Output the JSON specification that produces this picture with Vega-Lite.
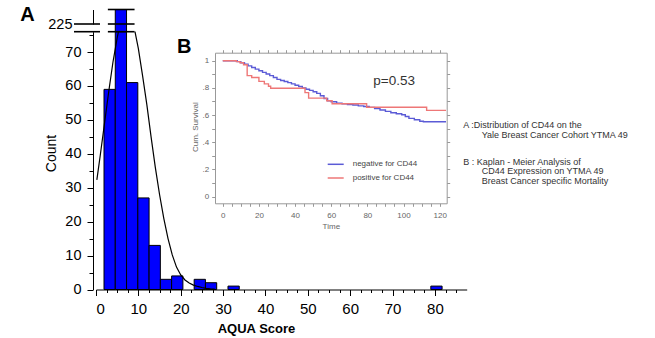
{
  "$schema": "https://vega.github.io/schema/vega-lite/v6.json",
  "width": 655,
  "height": 338,
  "autosize": {"type": "none"},
  "padding": 0,
  "background": "white",
  "config": {"view": {"stroke": null}, "font": "Liberation Sans", "axis": {"grid": false}},
  "datasets": {
    "bins": [
      {"start": 1.89, "end": 4.55, "count": 59},
      {"start": 4.55, "end": 7.21, "count": 229},
      {"start": 7.21, "end": 9.87, "count": 61},
      {"start": 9.87, "end": 12.53, "count": 27},
      {"start": 12.53, "end": 15.19, "count": 13},
      {"start": 15.19, "end": 17.85, "count": 3},
      {"start": 17.85, "end": 20.51, "count": 4},
      {"start": 23.17, "end": 25.83, "count": 3},
      {"start": 25.83, "end": 28.49, "count": 2},
      {"start": 31.15, "end": 33.81, "count": 1},
      {"start": 79.03, "end": 81.69, "count": 1}
    ],
    "curve": [
      {"side": "L", "score": 0.2, "count": 32.3},
      {"side": "L", "score": 1, "count": 39.5},
      {"side": "L", "score": 2, "count": 48.9},
      {"side": "L", "score": 3, "count": 58.3},
      {"side": "L", "score": 4, "count": 67},
      {"side": "L", "score": 5, "count": 74.2},
      {"side": "L", "score": 5.3, "count": 76},
      {"side": "R", "score": 9.2, "count": 76},
      {"side": "R", "score": 10, "count": 71},
      {"side": "R", "score": 11, "count": 63},
      {"side": "R", "score": 12, "count": 54.5},
      {"side": "R", "score": 13, "count": 45},
      {"side": "R", "score": 14, "count": 36},
      {"side": "R", "score": 15, "count": 28},
      {"side": "R", "score": 16, "count": 21},
      {"side": "R", "score": 17, "count": 15},
      {"side": "R", "score": 18, "count": 10.2},
      {"side": "R", "score": 19, "count": 6.6},
      {"side": "R", "score": 20, "count": 4.3},
      {"side": "R", "score": 21, "count": 2.8},
      {"side": "R", "score": 22, "count": 1.9},
      {"side": "R", "score": 23, "count": 1.3},
      {"side": "R", "score": 24, "count": 0.9},
      {"side": "R", "score": 25, "count": 0.6},
      {"side": "R", "score": 26, "count": 0.35},
      {"side": "R", "score": 27, "count": 0.2},
      {"side": "R", "score": 28, "count": 0.1}
    ],
    "breaks": [
      {"part": "lower", "from": -5.2, "to": 0.94, "count": 76},
      {"part": "lower", "from": 2.8, "to": 9.1, "count": 76},
      {"part": "upper", "from": -5.2, "to": 0.94, "count": 225},
      {"part": "upper", "from": 2.8, "to": 9.1, "count": 225},
      {"part": "upper", "from": 2.8, "to": 9.1, "count": 229}
    ],
    "km": [
      {"group": "negative for CD44", "t": 0, "s": 1.0},
      {"group": "negative for CD44", "t": 7, "s": 1.0},
      {"group": "negative for CD44", "t": 8, "s": 0.993},
      {"group": "negative for CD44", "t": 10, "s": 0.985},
      {"group": "negative for CD44", "t": 12, "s": 0.975},
      {"group": "negative for CD44", "t": 14, "s": 0.962},
      {"group": "negative for CD44", "t": 16, "s": 0.95},
      {"group": "negative for CD44", "t": 18, "s": 0.938},
      {"group": "negative for CD44", "t": 20, "s": 0.926},
      {"group": "negative for CD44", "t": 22, "s": 0.914},
      {"group": "negative for CD44", "t": 24, "s": 0.902},
      {"group": "negative for CD44", "t": 26, "s": 0.89},
      {"group": "negative for CD44", "t": 28, "s": 0.876},
      {"group": "negative for CD44", "t": 30, "s": 0.863},
      {"group": "negative for CD44", "t": 32, "s": 0.855},
      {"group": "negative for CD44", "t": 34, "s": 0.847},
      {"group": "negative for CD44", "t": 36, "s": 0.839},
      {"group": "negative for CD44", "t": 38, "s": 0.83},
      {"group": "negative for CD44", "t": 40, "s": 0.82},
      {"group": "negative for CD44", "t": 42, "s": 0.81},
      {"group": "negative for CD44", "t": 44, "s": 0.8},
      {"group": "negative for CD44", "t": 46, "s": 0.79},
      {"group": "negative for CD44", "t": 48, "s": 0.782},
      {"group": "negative for CD44", "t": 50, "s": 0.772},
      {"group": "negative for CD44", "t": 52, "s": 0.76},
      {"group": "negative for CD44", "t": 54, "s": 0.742},
      {"group": "negative for CD44", "t": 56, "s": 0.722},
      {"group": "negative for CD44", "t": 58, "s": 0.706},
      {"group": "negative for CD44", "t": 60, "s": 0.698},
      {"group": "negative for CD44", "t": 63, "s": 0.687},
      {"group": "negative for CD44", "t": 66, "s": 0.683},
      {"group": "negative for CD44", "t": 69, "s": 0.678},
      {"group": "negative for CD44", "t": 72, "s": 0.674},
      {"group": "negative for CD44", "t": 75, "s": 0.668},
      {"group": "negative for CD44", "t": 78, "s": 0.663},
      {"group": "negative for CD44", "t": 81, "s": 0.657},
      {"group": "negative for CD44", "t": 84, "s": 0.648},
      {"group": "negative for CD44", "t": 87, "s": 0.637},
      {"group": "negative for CD44", "t": 90, "s": 0.627},
      {"group": "negative for CD44", "t": 93, "s": 0.617},
      {"group": "negative for CD44", "t": 96, "s": 0.61},
      {"group": "negative for CD44", "t": 99, "s": 0.602},
      {"group": "negative for CD44", "t": 101, "s": 0.59},
      {"group": "negative for CD44", "t": 103, "s": 0.576},
      {"group": "negative for CD44", "t": 106, "s": 0.566},
      {"group": "negative for CD44", "t": 109, "s": 0.555},
      {"group": "negative for CD44", "t": 111, "s": 0.551},
      {"group": "negative for CD44", "t": 123.5, "s": 0.551},
      {"group": "positive for CD44", "t": 0, "s": 1.0},
      {"group": "positive for CD44", "t": 7.5, "s": 0.993},
      {"group": "positive for CD44", "t": 9.5, "s": 0.985},
      {"group": "positive for CD44", "t": 11.5, "s": 0.97},
      {"group": "positive for CD44", "t": 13.5, "s": 0.89},
      {"group": "positive for CD44", "t": 16, "s": 0.877},
      {"group": "positive for CD44", "t": 20, "s": 0.848},
      {"group": "positive for CD44", "t": 23, "s": 0.83},
      {"group": "positive for CD44", "t": 25.3, "s": 0.812},
      {"group": "positive for CD44", "t": 26.5, "s": 0.797},
      {"group": "positive for CD44", "t": 45.5, "s": 0.765},
      {"group": "positive for CD44", "t": 47.5, "s": 0.725},
      {"group": "positive for CD44", "t": 57.5, "s": 0.705},
      {"group": "positive for CD44", "t": 60.5, "s": 0.683},
      {"group": "positive for CD44", "t": 79.6, "s": 0.658},
      {"group": "positive for CD44", "t": 112.8, "s": 0.635},
      {"group": "positive for CD44", "t": 123.5, "s": 0.635}
    ],
    "notes": [
      {"text": "A :Distribution of CD44 on the", "t": 133.05, "s": 0.527},
      {"text": "Yale Breast Cancer Cohort YTMA 49", "t": 143.23, "s": 0.454},
      {"text": "B : Kaplan - Meier Analysis of", "t": 133.05, "s": 0.257},
      {"text": "CD44 Expression on YTMA 49", "t": 143.23, "s": 0.187},
      {"text": "Breast Cancer specific Mortality", "t": 143.23, "s": 0.115}
    ],
    "pval": [{"text": "p=0.53", "t": 83.3, "s": 0.851}],
    "letters": [
      {"text": "A", "t": -112.1, "s": 1.336},
      {"text": "B", "t": -25.3, "s": 1.104}
    ]
  },
  "layer": [
    {
      "data": {"name": "bins"},
      "mark": {"type": "rect", "fill": "#0000ff", "stroke": "#000000", "strokeWidth": 1},
      "encoding": {
        "x": {"field": "start", "type": "quantitative",
          "scale": {"domain": [0, 87.5], "range": [96, 466.7], "nice": false, "zero": false},
          "axis": {"orient": "bottom", "offset": -48.5, "values": [0, 10, 20, 30, 40, 50, 60, 70, 80],
            "tickSize": 6, "tickColor": "#000", "domainColor": "#000", "labelColor": "#000",
            "labelFontSize": 15, "labelPadding": 6, "title": "AQUA Score", "titleFontSize": 13,
            "titleFontWeight": "bold", "titleColor": "#000", "titleX": 256, "titleY": 38.8,
            "titleAlign": "center", "titleBaseline": "middle"}},
        "x2": {"field": "end"},
        "y": {"field": "count", "type": "quantitative",
          "scale": {"domain": [0, 76], "range": [289.5, 31.7], "nice": false, "zero": false, "clamp": true},
          "axis": {"orient": "left", "offset": -93, "values": [0, 10, 20, 30, 40, 50, 60, 70],
            "tickSize": 6, "tickColor": "#000", "domainColor": "#000", "labelColor": "#000",
            "labelFontSize": 14.5, "labelPadding": 6, "title": "Count", "titleFontSize": 14,
            "titleFontWeight": "normal", "titleColor": "#000", "titleX": -41.3, "titleY": 153,
            "titleAlign": "center", "titleBaseline": "middle", "titleAngle": -90}},
        "y2": {"datum": 0}
      }
    },
    {
      "data": {"name": "bins"},
      "mark": {"type": "point", "opacity": 0},
      "encoding": {
        "x": {"field": "start", "type": "quantitative",
          "scale": {"domain": [0, 87.5], "range": [96, 466.7], "nice": false, "zero": false},
          "axis": {"orient": "bottom", "offset": -48.5, "values": [2.5, 5, 7.5, 12.5, 15, 17.5, 22.5, 25, 27.5, 32.5, 35, 37.5, 42.5, 45, 47.5, 52.5, 55, 57.5, 62.5, 65, 67.5, 72.5, 75, 77.5, 82.5, 85],
            "tickSize": 3, "tickColor": "#000", "domain": false, "labels": false, "title": null}},
        "y": {"field": "count", "type": "quantitative",
          "scale": {"domain": [0, 76], "range": [289.5, 31.7], "nice": false, "zero": false, "clamp": true},
          "axis": {"orient": "left", "offset": -93, "values": [5, 15, 25, 35, 45, 55, 65, 75],
            "tickSize": 4, "tickColor": "#000", "domain": false, "labels": false, "title": null}}
      }
    },
    {
      "data": {"name": "bins"},
      "transform": [{"filter": "datum.count > 100"}],
      "mark": {"type": "rect", "fill": "#0000ff", "stroke": "#000000", "strokeWidth": 1},
      "encoding": {
        "x": {"field": "start", "type": "quantitative",
          "scale": {"domain": [0, 87.5], "range": [96, 466.7], "nice": false, "zero": false}, "axis": null},
        "x2": {"field": "end"},
        "y": {"field": "count", "type": "quantitative",
          "scale": {"domain": [225, 229], "range": [24, 9.5], "nice": false, "zero": false},
          "axis": {"orient": "left", "offset": -93, "values": [225], "tickSize": 0,
            "domainColor": "#000", "labelColor": "#000", "labelFontSize": 14.5, "labelPadding": 21, "title": null}},
        "y2": {"datum": 222.9}
      }
    },
    {
      "data": {"name": "curve"},
      "mark": {"type": "line", "color": "#000000", "strokeWidth": 1.2},
      "encoding": {
        "x": {"field": "score", "type": "quantitative",
          "scale": {"domain": [0, 87.5], "range": [96, 466.7], "nice": false, "zero": false}, "axis": null},
        "y": {"field": "count", "type": "quantitative",
          "scale": {"domain": [0, 76], "range": [289.5, 31.7], "nice": false, "zero": false, "clamp": true}, "axis": null},
        "detail": {"field": "side"}
      }
    },
    {
      "data": {"name": "breaks"},
      "transform": [{"filter": "datum.part === 'lower'"}],
      "mark": {"type": "rule", "color": "#000000", "strokeWidth": 1.6},
      "encoding": {
        "x": {"field": "from", "type": "quantitative",
          "scale": {"domain": [0, 87.5], "range": [96, 466.7], "nice": false, "zero": false}, "axis": null},
        "x2": {"field": "to"},
        "y": {"field": "count", "type": "quantitative",
          "scale": {"domain": [0, 76], "range": [289.5, 31.7], "nice": false, "zero": false}, "axis": null}
      }
    },
    {
      "data": {"name": "breaks"},
      "transform": [{"filter": "datum.part === 'upper'"}],
      "mark": {"type": "rule", "color": "#000000", "strokeWidth": 1.6},
      "encoding": {
        "x": {"field": "from", "type": "quantitative",
          "scale": {"domain": [0, 87.5], "range": [96, 466.7], "nice": false, "zero": false}, "axis": null},
        "x2": {"field": "to"},
        "y": {"field": "count", "type": "quantitative",
          "scale": {"domain": [225, 229], "range": [24, 9.5], "nice": false, "zero": false}, "axis": null}
      }
    },
    {
      "data": {"name": "km"},
      "mark": {"type": "line", "interpolate": "step-after", "strokeWidth": 1.4},
      "encoding": {
        "x": {"field": "t", "type": "quantitative",
          "scale": {"domain": [-4.3, 123.9], "range": [215, 446.7], "nice": false, "zero": false},
          "axis": {"orient": "bottom", "offset": -134.7, "values": [0, 5, 10, 15, 20, 25, 30, 35, 40, 45, 50, 55, 60, 65, 70, 75, 80, 85, 90, 95, 100, 105, 110, 115, 120],
            "labelExpr": "datum.value % 20 === 0 ? datum.label : ''",
            "tickSize": 3, "tickColor": "#999", "domainColor": "#999", "labelColor": "#666",
            "labelFontSize": 8, "labelPadding": 5, "title": "Time", "titleFontSize": 8,
            "titleFontWeight": "normal", "titleColor": "#666", "titlePadding": 3}},
        "y": {"field": "s", "type": "quantitative",
          "scale": {"domain": [-0.049, 1.059], "range": [203.3, 52.7], "nice": false, "zero": false},
          "axis": {"orient": "left", "offset": -215, "values": [0, 0.1, 0.2, 0.3, 0.4, 0.5, 0.6, 0.7, 0.8, 0.9, 1],
            "labelExpr": "datum.value === 0 ? '0' : (datum.value === 1 ? '1' : (round(datum.value * 10) % 2 === 0 ? replace(format(datum.value, '.1f'), '0.', '.') : ''))",
            "tickSize": 3.3, "tickColor": "#999", "domainColor": "#999", "labelColor": "#666",
            "labelFontSize": 8, "labelPadding": 3, "title": "Cum. Survival", "titleFontSize": 8,
            "titleFontWeight": "normal", "titleColor": "#666", "titleX": -20, "titleY": 126.7,
            "titleAlign": "center", "titleBaseline": "middle", "titleAngle": -90}},
        "color": {"field": "group", "type": "nominal",
          "scale": {"domain": ["negative for CD44", "positive for CD44"], "range": ["#5b5bd6", "#ee7777"]},
          "legend": {"orient": "none", "legendX": 326.7, "legendY": 155.3, "title": null,
            "symbolType": "stroke", "symbolSize": 256, "symbolStrokeWidth": 1.5,
            "labelFontSize": 8, "labelColor": "#444", "labelOffset": 8, "rowPadding": 0.7, "padding": 0}}
      }
    },
    {
      "data": {"name": "km"},
      "mark": {"type": "point", "opacity": 0},
      "encoding": {
        "x": {"field": "t", "type": "quantitative",
          "scale": {"domain": [-4.3, 123.9], "range": [215, 446.7], "nice": false, "zero": false},
          "axis": {"orient": "top", "offset": -52.7, "values": [0, 5, 10, 15, 20, 25, 30, 35, 40, 45, 50, 55, 60, 65, 70, 75, 80, 85, 90, 95, 100, 105, 110, 115, 120],
            "labels": false, "tickSize": 3, "tickColor": "#999", "domainColor": "#999", "title": null}},
        "y": {"field": "s", "type": "quantitative",
          "scale": {"domain": [-0.049, 1.059], "range": [203.3, 52.7], "nice": false, "zero": false},
          "axis": {"orient": "right", "offset": -208.3, "values": [0, 0.1, 0.2, 0.3, 0.4, 0.5, 0.6, 0.7, 0.8, 0.9, 1],
            "labels": false, "tickSize": 3, "tickColor": "#999", "domainColor": "#999", "title": null}}
      }
    },
    {
      "data": {"name": "notes"},
      "mark": {"type": "text", "align": "left", "baseline": "middle", "fontSize": 9, "color": "#333333"},
      "encoding": {
        "x": {"field": "t", "type": "quantitative",
          "scale": {"domain": [-4.3, 123.9], "range": [215, 446.7], "nice": false, "zero": false}, "axis": null},
        "y": {"field": "s", "type": "quantitative",
          "scale": {"domain": [-0.049, 1.059], "range": [203.3, 52.7], "nice": false, "zero": false}, "axis": null},
        "text": {"field": "text"}
      }
    },
    {
      "data": {"name": "pval"},
      "mark": {"type": "text", "align": "left", "baseline": "middle", "fontSize": 13.5, "color": "#333333"},
      "encoding": {
        "x": {"field": "t", "type": "quantitative",
          "scale": {"domain": [-4.3, 123.9], "range": [215, 446.7], "nice": false, "zero": false}, "axis": null},
        "y": {"field": "s", "type": "quantitative",
          "scale": {"domain": [-0.049, 1.059], "range": [203.3, 52.7], "nice": false, "zero": false}, "axis": null},
        "text": {"field": "text"}
      }
    },
    {
      "data": {"name": "letters"},
      "mark": {"type": "text", "align": "left", "baseline": "middle", "fontSize": 20, "fontWeight": "bold", "color": "#000000"},
      "encoding": {
        "x": {"field": "t", "type": "quantitative",
          "scale": {"domain": [-4.3, 123.9], "range": [215, 446.7], "nice": false, "zero": false}, "axis": null},
        "y": {"field": "s", "type": "quantitative",
          "scale": {"domain": [-0.049, 1.059], "range": [203.3, 52.7], "nice": false, "zero": false}, "axis": null},
        "text": {"field": "text"}
      }
    }
  ],
  "resolve": {
    "scale": {"x": "independent", "y": "independent", "color": "independent"},
    "axis": {"x": "independent", "y": "independent"}
  }
}
